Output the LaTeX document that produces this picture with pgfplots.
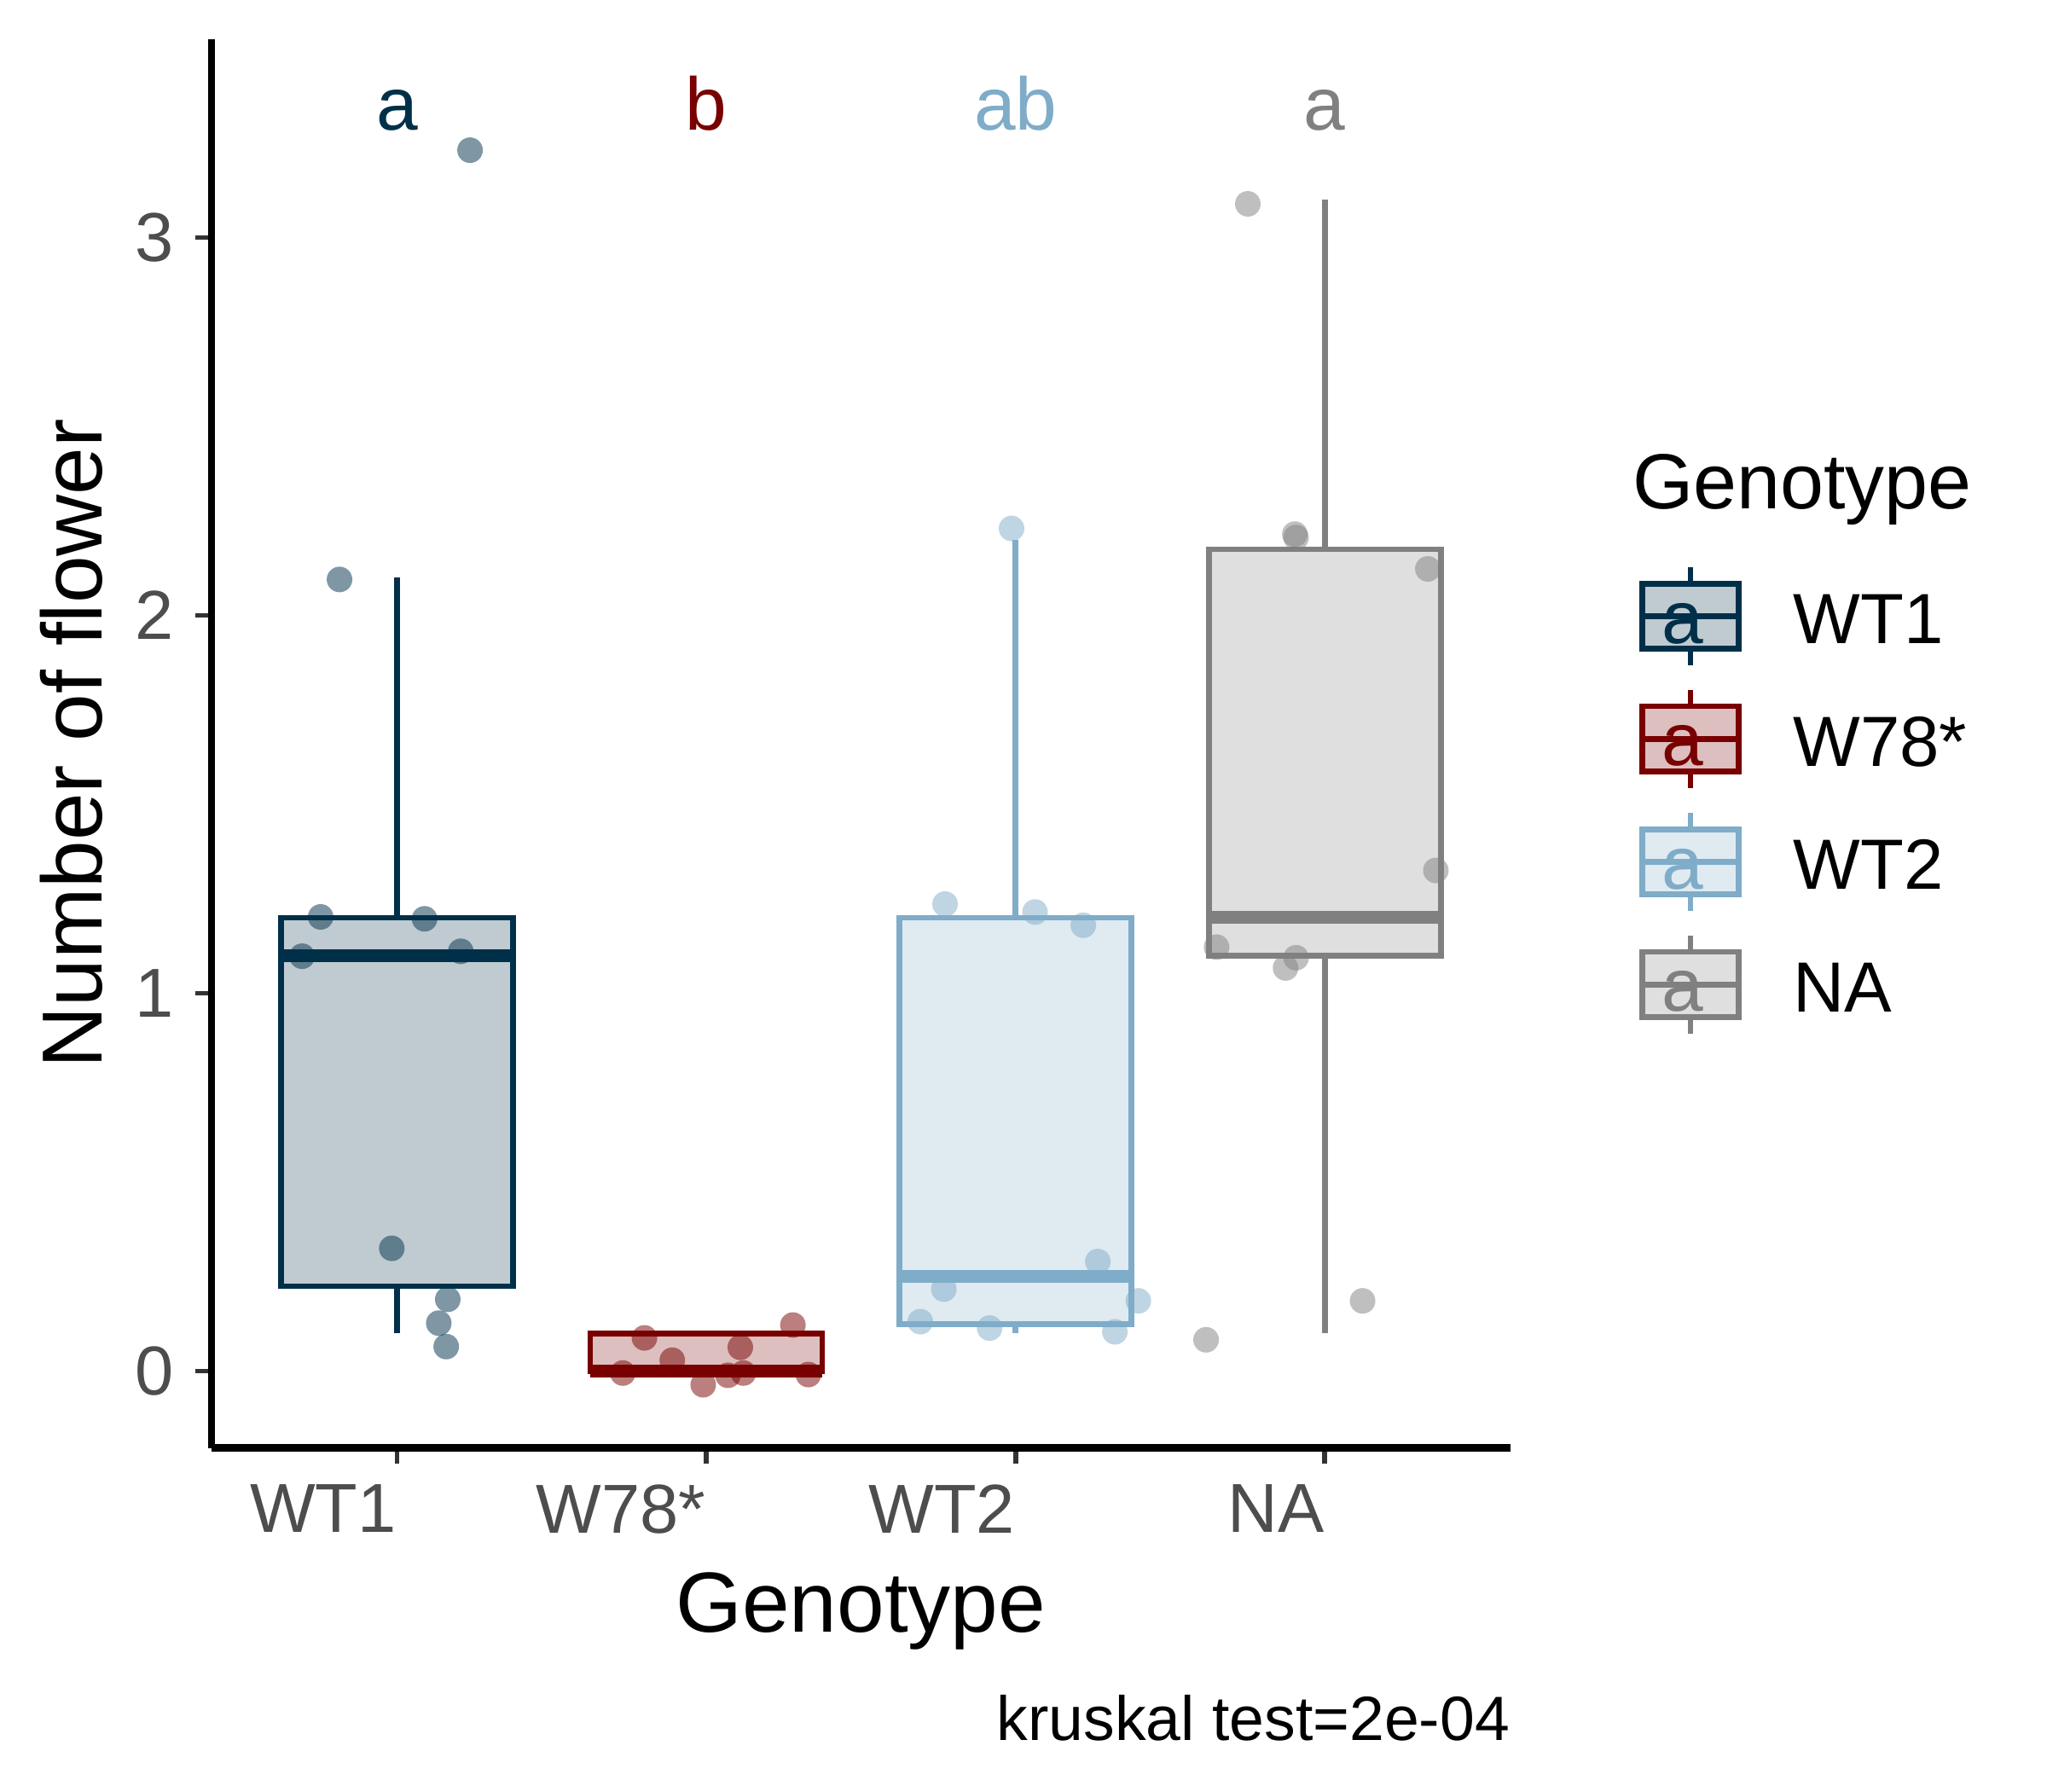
\documentclass[border=0pt]{standalone}
\usepackage{pgfplots}
\pgfplotsset{compat=1.18}
\usepgfplotslibrary{statistics}
\usepackage{fontspec}
\setmainfont{Liberation Sans}
\definecolor{cA}{RGB}{0,48,73}
\definecolor{cB}{RGB}{120,0,0}
\definecolor{cC}{RGB}{127,172,200}
\definecolor{cD}{RGB}{128,128,128}
\definecolor{tickgray}{RGB}{51,51,51}
\definecolor{labgray}{RGB}{77,77,77}
\pgfplotsset{
  gbox/.style={line width=1.6pt, boxplot/draw direction=y, boxplot/box extend=0.75, boxplot/whisker extend=0,
    boxplot/every median/.style={line width=3.6pt}},
  gpts/.style={only marks, mark=*, mark size=3.6pt, color=#1, mark options={fill=#1, fill opacity=0.5, draw opacity=0}},
}
\begin{document}
\begin{tikzpicture}
\begin{axis}[
 name=ax,
 scale only axis, width=365.5pt, height=396.4pt,
 xmin=0.4, xmax=4.6, ymin=-0.203, ymax=3.525,
 axis x line*=bottom, axis y line*=left,
 axis line style={line width=2pt, black},
 xtick={1,2,3,4}, xticklabels={WT1,W78*,WT2,NA},
 ytick={0,1,2,3},
 tick align=outside, major tick length=4.5pt,
 tick style={line width=1.4pt, color=tickgray},
 ticklabel style={font=\fontsize{19.5}{20}\selectfont, text=labgray},
 xticklabel style={anchor=north east, inner sep=0pt, yshift=-5.7pt},
 yticklabel style={anchor=east, inner sep=0pt, xshift=-5.9pt},
 /pgf/number format/assume math mode=true,
 xlabel={Genotype}, ylabel={Number of flower},
 label style={font=\fontsize{24}{28}\selectfont},
 xlabel style={at={(axis description cs:0.5,0)}, anchor=base, inner sep=0pt, yshift=-51.8pt},
 ylabel style={at={(axis description cs:-0.0834,0.5)}, anchor=south, inner sep=0pt},
 clip=false,
]
% boxes
\addplot[gbox, draw=cA, fill=cA!25, boxplot prepared={draw position=1, lower whisker=0.1, lower quartile=0.225, median=1.1, upper quartile=1.2, upper whisker=2.1}] coordinates {};
\addplot[gbox, draw=cB, fill=cB!25, boxplot prepared={draw position=2, lower whisker=0, lower quartile=0, median=0, upper quartile=0.1, upper whisker=0.1}] coordinates {};
\addplot[gbox, draw=cC, fill=cC!25, boxplot prepared={draw position=3, lower whisker=0.1, lower quartile=0.125, median=0.25, upper quartile=1.2, upper whisker=2.2}] coordinates {};
\addplot[gbox, draw=cD, fill=cD!25, boxplot prepared={draw position=4, lower whisker=0.1, lower quartile=1.1, median=1.2, upper quartile=2.175, upper whisker=3.1}] coordinates {};
% points
\addplot[gpts=cA] coordinates {
(0.753,1.202) (1.089,1.197) (0.693,1.098) (1.206,1.111) (0.983,0.325) (1.164,0.19) (1.135,0.127) (1.159,0.065) (0.814,2.095) (1.236,3.231)};
\addplot[gpts=cB] coordinates {
(1.80,0.088) (1.89,0.029) (1.73,-0.005) (1.99,-0.036) (2.07,-0.011) (2.11,0.063) (2.12,-0.005) (2.28,0.122) (2.33,-0.009)};
\addplot[gpts=cC] coordinates {
(2.987,2.23) (2.772,1.236) (3.063,1.215) (3.219,1.18) (3.266,0.29) (2.768,0.217) (3.397,0.186) (2.692,0.131) (2.916,0.114) (3.321,0.104)};
\addplot[gpts=cD] coordinates {
(3.751,3.089) (3.907,2.206) (3.903,2.215) (4.333,2.123) (4.359,1.325) (3.650,1.122) (3.907,1.094) (3.873,1.067) (4.122,0.186) (3.616,0.083)};
% letters
\node[text=cA, anchor=base, inner sep=0pt, font=\fontsize{21}{24}\selectfont] at (axis cs:1,3.285) {a};
\node[text=cB, anchor=base, inner sep=0pt, font=\fontsize{21}{24}\selectfont] at (axis cs:2,3.285) {b};
\node[text=cC, anchor=base, inner sep=0pt, font=\fontsize{21}{24}\selectfont] at (axis cs:3,3.285) {ab};
\node[text=cD, anchor=base, inner sep=0pt, font=\fontsize{21}{24}\selectfont] at (axis cs:4,3.285) {a};
\node[anchor=base east, inner sep=0pt, yshift=-82.3pt, font=\fontsize{17.6}{20}\selectfont] at (rel axis cs:1,0) {kruskal test=2e-04};
\end{axis}
\begin{scope}[shift={(ax.south west)}]
\node[anchor=base west, inner sep=0pt, font=\fontsize{22}{26}\selectfont] at (399.7pt,264.2pt) {Genotype};
\foreach \c/\yy/\lab in {cA/234.0/WT1, cB/199.5/W78*, cC/164.9/WT2, cD/130.4/NA} {
  \draw[\c, line width=1.6pt] (416.2pt,\yy pt-13.8pt) -- (416.2pt,\yy pt+13.8pt);
  \draw[\c, fill=\c!25, line width=1.6pt] (402.6pt,\yy pt-9.18pt) rectangle (429.8pt,\yy pt+9.18pt);
  \draw[\c, line width=1.6pt] (402.6pt,\yy pt) -- (429.8pt,\yy pt);
  \node[text=\c, anchor=base, inner sep=0pt, font=\fontsize{21}{24}\selectfont] at (414pt,\yy pt-7.6pt) {a};
  \node[anchor=base west, inner sep=0pt, font=\fontsize{20}{24}\selectfont] at (444.9pt,\yy pt-7.74pt) {\lab};
}
\end{scope}
\pgfresetboundingbox
\path[use as bounding box] (ax.south west) ++(-59.51pt,-96.6pt) rectangle ++(576pt,504pt);
\end{tikzpicture}
\end{document}
